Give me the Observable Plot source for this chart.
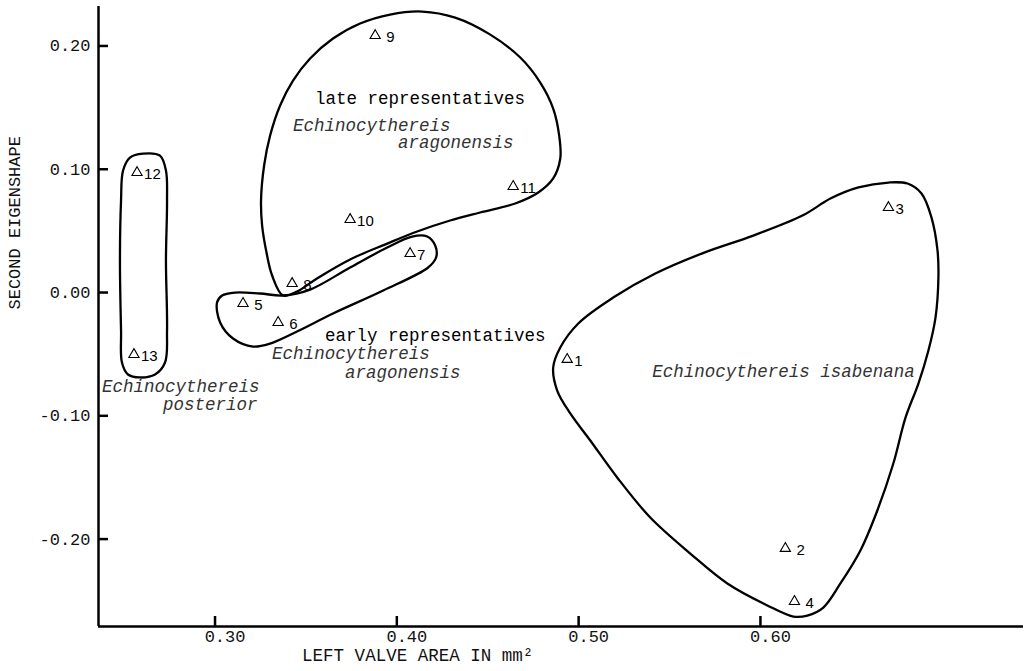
<!DOCTYPE html>
<html>
<head>
<meta charset="utf-8">
<script src="https://cdn.jsdelivr.net/npm/d3@7"></script>
<script src="https://cdn.jsdelivr.net/npm/@observablehq/plot@0.6"></script>
<style>
  html, body { margin: 0; padding: 0; background: #fff; }
  #chart svg { display: block; background: #fff; }
</style>
</head>
<body>
<div id="chart"></div>
<script>
// ---- specimen points (left valve area, second eigenshape) ----
const pointIds = ["1","2","3","4","5","6","7","8","9","10","11","12","13"];
const pointLabels = ["1","\u00a02","3","\u00a04","\u00a05","\u00a06","7","\u00a08","\u00a09","10","11","12","13"];
const pointX = [0.4937, 0.6137, 0.6704, 0.6187, 0.3154, 0.3347, 0.4073, 0.3424, 0.3881, 0.3743, 0.4640, 0.2571, 0.2554];
const pointY = [-0.0543, -0.2076, 0.0689, -0.2506, -0.0089, -0.0243, 0.0316, 0.0073, 0.2084, 0.0592, 0.0860, 0.0973, -0.0503];

// ---- hand-drawn group outlines (data coordinates) ----
const posteriorX = [0.2604, 0.2697, 0.2730, 0.2736, 0.2730, 0.2736, 0.2725, 0.2670, 0.2587, 0.2521, 0.2488, 0.2483, 0.2477, 0.2483, 0.2494, 0.2532];
const posteriorY = [0.1127, 0.1111, 0.0989, 0.0746, 0.0260, -0.0308, -0.0568, -0.0665, -0.0689, -0.0665, -0.0568, -0.0308, 0.0260, 0.0746, 0.0989, 0.1095];

const earlyX = [0.3011, 0.3039, 0.3110, 0.3248, 0.3374, 0.3523, 0.3743, 0.3947, 0.4084, 0.4167, 0.4211, 0.4216, 0.4172, 0.3925, 0.3649, 0.3451, 0.3303, 0.3209, 0.3099, 0.3028];
const earlyY = [-0.0081, -0.0024, 0.0000, -0.0008, -0.0024, 0.0024, 0.0203, 0.0365, 0.0454, 0.0454, 0.0381, 0.0284, 0.0203, 0.0016, -0.0170, -0.0316, -0.0414, -0.0438, -0.0373, -0.0243];

const lateX = [0.3374, 0.3314, 0.3281, 0.3259, 0.3253, 0.3270, 0.3303, 0.3358, 0.3429, 0.3523, 0.3649, 0.3798, 0.3963, 0.4139, 0.4321, 0.4514, 0.4679, 0.4789, 0.4860, 0.4893, 0.4899, 0.4860, 0.4778, 0.4651, 0.4458, 0.4293, 0.4112, 0.3947, 0.3743, 0.3561, 0.3451];
const lateY = [-0.0024, 0.0138, 0.0341, 0.0543, 0.0746, 0.1030, 0.1273, 0.1517, 0.1719, 0.1898, 0.2060, 0.2182, 0.2255, 0.2279, 0.2230, 0.2092, 0.1906, 0.1703, 0.1492, 0.1273, 0.1087, 0.0925, 0.0811, 0.0722, 0.0649, 0.0584, 0.0495, 0.0397, 0.0268, 0.0114, 0.0008];

const isabenanaX = [0.4860, 0.4899, 0.4998, 0.5190, 0.5422, 0.5691, 0.5961, 0.6231, 0.6385, 0.6539, 0.6704, 0.6809, 0.6886, 0.6941, 0.6974, 0.6979, 0.6963, 0.6924, 0.6869, 0.6798, 0.6731, 0.6643, 0.6550, 0.6440, 0.6346, 0.6258, 0.6181, 0.6038, 0.5818, 0.5614, 0.5394, 0.5212, 0.5064, 0.4954, 0.4882];
const isabenanaY = [-0.0608, -0.0446, -0.0251, -0.0041, 0.0154, 0.0324, 0.0462, 0.0624, 0.0762, 0.0852, 0.0892, 0.0884, 0.0803, 0.0608, 0.0341, 0.0122, -0.0203, -0.0470, -0.0738, -0.1014, -0.1387, -0.1768, -0.2092, -0.2360, -0.2555, -0.2620, -0.2628, -0.2538, -0.2360, -0.2117, -0.1825, -0.1500, -0.1200, -0.0981, -0.0795];

// ---- annotations ----
const annotText = ["late representatives", "Echinocythereis", "aragonensis", "early representatives", "Echinocythereis", "aragonensis", "Echinocythereis", "posterior", "Echinocythereis isabenana"];
const annotX = [0.3550, 0.3429, 0.4007, 0.3605, 0.3314, 0.3715, 0.2378, 0.2714, 0.5405];
const annotY = [0.1573, 0.1354, 0.1217, -0.0349, -0.0495, -0.0649, -0.0762, -0.0908, -0.0641];
const annotItalic = [false, true, true, false, true, true, true, true, true];

// ---- axes ----
const xTicks = [0.30, 0.40, 0.50, 0.60];
const yTicks = [0.20, 0.10, 0.00, -0.10, -0.20];
const xDomain = [0.2359, 0.7447];
const yDomain = [-0.2709, 0.2320];
const xTitle = "LEFT VALVE AREA IN mm\u00b2";
const yTitle = "SECOND EIGENSHAPE";

// build tables
const points = pointIds.map((id, i) => ({id, label: pointLabels[i], x: pointX[i], y: pointY[i]}));
const outlines = [];
[["posterior", posteriorX, posteriorY], ["early", earlyX, earlyY], ["late", lateX, lateY], ["isabenana", isabenanaX, isabenanaY]]
  .forEach(([g, xs, ys]) => xs.forEach((x, i) => outlines.push({g, x, y: ys[i]})));
const annots = annotText.map((t, i) => ({t, x: annotX[i], y: annotY[i], italic: annotItalic[i]}));

const W = 1025, H = 671, ML = 98, MR = 2, MT = 6, MB = 45;
const TICK = 10;
const mono = "'Liberation Mono', 'DejaVu Sans Mono', monospace";
const sans = "'Liberation Sans', Arial, sans-serif";
const fmt = d => d.toFixed(2);

const chart = Plot.plot({
  width: W,
  height: H,
  marginLeft: ML,
  marginRight: MR,
  marginTop: MT,
  marginBottom: MB,
  style: {background: "#fff", color: "#000", overflow: "visible"},
  x: {domain: xDomain, axis: null},
  y: {domain: yDomain, axis: null},
  marks: [
    // inward tick marks (short ticks anchored on the axes)
    Plot.tickX(xTicks, {x: d => d, insetTop: (H - MT - MB) - TICK, stroke: "#000", strokeWidth: 2.5}),
    Plot.tickY(yTicks, {y: d => d, insetRight: (W - ML - MR) - TICK, stroke: "#000", strokeWidth: 2.5}),
    // axis lines
    Plot.ruleX([xDomain[0]], {stroke: "#000", strokeWidth: 2.5}),
    Plot.ruleY([yDomain[0]], {stroke: "#000", strokeWidth: 2.5}),
    // tick labels
    Plot.text(xTicks, {x: d => d, frameAnchor: "bottom", dy: 15, dx: 10, text: fmt, fontFamily: mono, fontSize: 17, fill: "#111"}),
    Plot.text(yTicks, {y: d => d, frameAnchor: "left", dx: -8, textAnchor: "end", text: fmt, fontFamily: mono, fontSize: 17, fill: "#111"}),
    // axis titles
    Plot.text([xTitle], {x: () => 0.3479, frameAnchor: "bottom", dy: 34, textAnchor: "start", text: d => d, fontFamily: mono, fontSize: 17.5, fill: "#111"}),
    Plot.text([yTitle], {frameAnchor: "left", rotate: -90, dx: -84, dy: -7, text: d => d, fontFamily: mono, fontSize: 17, fill: "#111"}),
    // group outlines
    Plot.line(outlines, {x: "x", y: "y", z: "g", curve: "catmull-rom-closed", stroke: "#000", strokeWidth: 2.3, fill: "none"}),
    // specimens
    Plot.dot(points, {x: "x", y: "y", symbol: "triangle", r: 3.8, stroke: "#000", fill: "none", strokeWidth: 1.1}),
    Plot.text(points, {x: "x", y: "y", text: "label", dx: 7, dy: 2, textAnchor: "start", fontFamily: sans, fontSize: 15, fill: "#000"}),
    // annotations
    Plot.text(annots.filter(d => !d.italic), {x: "x", y: "y", text: "t", textAnchor: "start", fontFamily: mono, fontSize: 17.5, fill: "#000"}),
    Plot.text(annots.filter(d => d.italic), {x: "x", y: "y", text: "t", textAnchor: "start", fontFamily: mono, fontStyle: "italic", fontSize: 17.5, fill: "#333"})
  ]
});
document.getElementById("chart").appendChild(chart);
</script>
</body>
</html>
